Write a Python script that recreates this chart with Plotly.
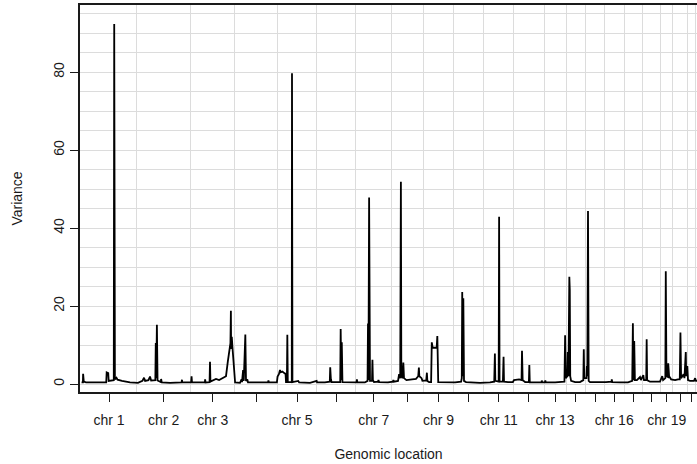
import plotly.graph_objects as go

# Chromosome names and lengths (Mb, as plotted)
chromosomes = ["chr 1", "chr 2", "chr 3", "chr 4", "chr 5", "chr 6", "chr 7", "chr 8",
               "chr 9", "chr 10", "chr 11", "chr 12", "chr 13", "chr 14", "chr 15",
               "chr 16", "chr 17", "chr 18", "chr 19", "chr 20", "chr 21", "chr 22"]
chrom_lengths = [249, 243, 199, 191, 177, 176, 162, 142, 137, 135, 135, 136,
                 99, 89, 83, 90, 83, 81, 55, 67, 34, 35]
labelled = ["chr 1", "chr 2", "chr 3", "chr 5", "chr 7", "chr 9", "chr 11",
            "chr 13", "chr 16", "chr 19"]

# Genomic position (cumulative Mb) and variance
position = [
    1, 7, 8, 11, 21, 84, 112, 114, 121, 123, 146, 148, 151, 158, 163, 183, 219,
    255, 275, 282, 287, 302, 309, 314, 333, 335, 337, 340, 343, 358, 359, 362, 399,
    451, 453, 454, 494, 496, 498,
    534, 556, 557, 559, 577, 579, 581, 593, 606, 620, 639, 651, 659, 666, 671, 673,
    674, 677, 680, 684, 688, 692,
    714, 721, 723, 728, 731, 738, 741, 747, 750, 804, 840, 842, 844, 880,
    883, 889, 894, 898, 905, 913, 919, 921, 925, 927, 929, 947, 948, 950, 976, 980,
    1029, 1059, 1061,
    1096, 1118, 1120, 1123, 1126, 1165, 1167, 1170, 1172, 1175, 1209, 1238, 1240, 1242,
    1276, 1288, 1290, 1292, 1295, 1299, 1308, 1310, 1312, 1317, 1335, 1337, 1340, 1380,
    1402, 1404, 1407, 1425, 1430, 1435, 1438, 1440, 1445, 1449, 1452, 1463, 1488, 1506,
    1516, 1519, 1521, 1531, 1535, 1552, 1555, 1557, 1565,
    1574, 1577, 1581, 1599, 1602, 1606, 1637,
    1682, 1709, 1712, 1714, 1717, 1719, 1722, 1731, 1794,
    1839, 1858, 1861, 1863, 1878, 1880, 1882, 1897, 1900, 1902, 1920,
    1942, 1947, 1956, 1970, 1981, 1983, 1986, 1997, 2014, 2016, 2018, 2064, 2071, 2072,
    2074, 2086, 2088, 2090,
    2132, 2174, 2177, 2180, 2187, 2189, 2192, 2196, 2198, 2200, 2204, 2222,
    2244, 2259, 2261, 2263, 2273, 2275, 2277, 2280, 2283, 2289,
    2334, 2361, 2386, 2387, 2389, 2424, 2460,
    2479, 2482, 2484, 2488, 2491, 2500, 2514, 2518, 2529, 2532, 2542, 2544, 2546, 2559,
    2586,
    2604, 2614, 2618, 2628, 2630, 2633, 2640, 2641, 2645, 2654, 2672, 2685, 2693, 2696,
    2699, 2710, 2714, 2720, 2722, 2727, 2730, 2739, 2757, 2762, 2766, 2784,
]
variance = [
    0.4, 0.4, 2.6, 0.6, 0.4, 0.3, 0.4, 3.0, 2.8, 0.8, 1.0, 92.3, 1.2, 1.6, 1.1, 0.8, 0.4,
    0.3, 0.8, 1.6, 0.8, 1.0, 1.9, 0.9, 1.0, 10.5, 1.5, 15.2, 0.9, 0.5, 1.3, 0.4, 0.3,
    0.4, 1.1, 0.4, 0.4, 2.0, 0.4,
    0.3, 0.4, 1.2, 0.4, 0.5, 5.7, 0.6, 1.0, 1.3, 1.0, 1.6, 2.0, 5.7, 9.0, 10.5, 18.8,
    9.0, 12.1, 9.5, 6.2, 3.0, 0.4,
    0.3, 1.2, 0.5, 3.6, 0.8, 12.7, 0.8, 1.2, 0.4, 0.3, 0.4, 0.9, 0.4, 0.4,
    1.9, 2.5, 3.6, 3.0, 3.2, 2.8, 2.6, 0.5, 0.5, 12.6, 0.5, 0.5, 79.7, 0.5, 0.8, 0.4,
    0.3, 0.8, 0.4,
    0.4, 0.6, 4.3, 1.2, 0.5, 0.5, 14.1, 1.0, 10.7, 0.5, 0.4, 0.4, 1.2, 0.4,
    0.4, 0.8, 15.5, 1.0, 47.8, 0.8, 0.8, 6.2, 1.0, 0.5, 0.6, 1.0, 0.5, 0.4,
    0.6, 1.0, 0.6, 0.8, 2.5, 1.5, 51.9, 2.0, 1.5, 5.5, 1.5, 1.0, 1.2, 1.3,
    2.0, 4.2, 2.0, 1.5, 0.8, 0.9, 2.9, 0.8, 0.5,
    0.5, 10.7, 9.3, 9.3, 12.3, 0.5, 0.4,
    0.4, 0.6, 1.5, 23.6, 2.0, 22.0, 0.8, 0.5, 0.3,
    0.4, 0.6, 7.8, 0.8, 0.6, 42.9, 0.6, 0.6, 7.0, 0.6, 0.5,
    0.5, 1.0, 1.1, 1.2, 1.0, 8.5, 1.0, 0.5, 0.5, 4.9, 0.4, 0.3, 0.4, 0.9,
    0.4, 0.4, 0.9, 0.4,
    0.4, 0.6, 12.5, 1.5, 2.0, 8.2, 2.0, 27.5, 24.1, 2.0, 0.8, 0.5,
    0.5, 1.0, 8.9, 1.5, 1.5, 4.6, 2.0, 44.4, 0.8, 0.5,
    0.4, 0.5, 0.6, 1.2, 0.5, 0.4, 0.4,
    0.8, 15.6, 1.0, 11.0, 1.0, 1.0, 1.8, 1.0, 2.3, 1.0, 1.0, 11.5, 1.0, 0.6,
    0.6,
    0.6, 2.0, 1.0, 1.5, 28.9, 2.0, 1.8, 5.3, 2.0, 1.2, 1.0, 1.2, 1.2, 13.2,
    1.5, 2.5, 1.5, 8.2, 2.0, 4.6, 1.0, 0.8, 0.8, 1.5, 0.8, 0.8,
]

# Derived: chromosome boundaries and centres
starts = []
acc = 0
for L in chrom_lengths:
    starts.append(acc)
    acc += L
boundaries = [s for s in starts[1:]]
centres = [s + L / 2 for s, L in zip(starts, chrom_lengths)]
ticktext = [c if c in labelled else "" for c in chromosomes]

FONT = "Liberation Sans, Arial, sans-serif"
GRID = "#dcdcdc"

fig = go.Figure()
fig.add_trace(go.Scatter(
    x=position, y=variance, mode="lines",
    line=dict(color="black", width=1.8),
    hoverinfo="skip", showlegend=False,
))

fig.update_layout(
    width=697, height=464,
    margin=dict(l=80, r=0, t=5, b=72),
    paper_bgcolor="white", plot_bgcolor="white",
    font=dict(family=FONT, size=14, color="#1a1a1a"),
    showlegend=False,
)
fig.update_xaxes(
    range=[-6, 2770.5],
    tickmode="array", tickvals=centres, ticktext=ticktext,
    ticks="outside", ticklen=8, tickwidth=1, tickcolor="#1a1a1a",
    ticklabelstandoff=6,
    showgrid=False, zeroline=False,
    showline=True, linewidth=2, linecolor="#1a1a1a", mirror=True,
    minor=dict(tickmode="array", tickvals=boundaries, showgrid=True,
               gridcolor=GRID, gridwidth=1, ticks=""),
    title=dict(text="Genomic location", standoff=22, font=dict(size=14)),
)
fig.update_yaxes(
    range=[-2.05, 97.2],
    tickmode="array", tickvals=[0, 20, 40, 60, 80],
    tickangle=-90,
    ticks="outside", ticklen=8, tickwidth=1, tickcolor="#1a1a1a",
    ticklabelstandoff=0,
    showgrid=True, gridcolor=GRID, gridwidth=1,
    zeroline=False,
    showline=True, linewidth=2, linecolor="#1a1a1a", mirror=False,
    minor=dict(dtick=5, tick0=0, showgrid=True, gridcolor=GRID, gridwidth=1, ticks=""),
    title=dict(text="Variance", standoff=26, font=dict(size=14)),
)

fig.write_html("out.html")
